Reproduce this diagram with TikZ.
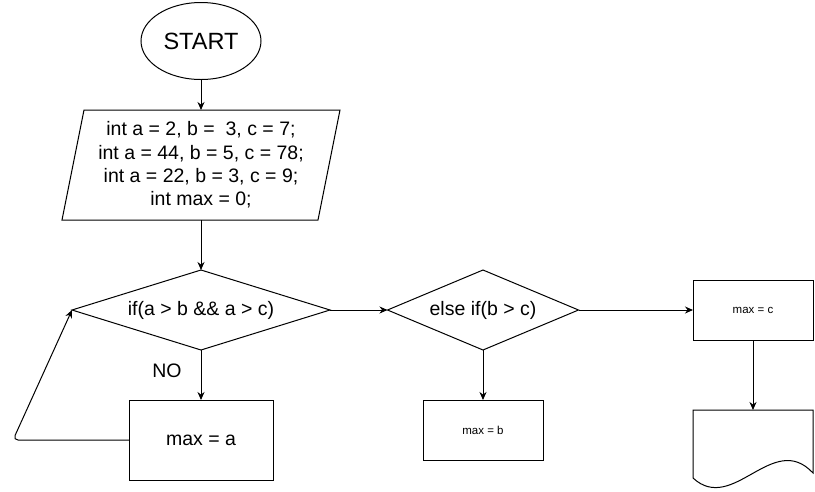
\documentclass[tikz,border=0pt]{standalone}
\usepackage{fontspec}
\setmainfont{Liberation Sans}
\usetikzlibrary{shapes.geometric,arrows.meta,calc}
\begin{document}
\begin{tikzpicture}[x=1pt,y=-1pt,
  every node/.style={inner sep=0pt,outer sep=0pt},
  big/.style={font=\fontsize{19.5}{23.4}\selectfont},
  small/.style={font=\fontsize{11.5}{14}\selectfont},
  startbox/.style={ellipse,draw,line width=1pt,minimum width=120pt,minimum height=77pt,font=\fontsize{23.5}{28}\selectfont},
  decision/.style={diamond,draw,line width=1pt,big},
  procbox/.style={rectangle,draw,line width=1pt},
  arr/.style={line width=1pt,-{Stealth[length=8pt,width=7pt]}},
  line/.style={line width=1pt}
]
\useasboundingbox (0,0) rectangle (815,491);
\fill[white] (0,0) rectangle (815,491);

\node[startbox] (start) at (201,41) {START};

\node[minimum width=256pt,minimum height=110pt,big,align=center] (init) at (201,165)
  {int a = 2, b = \ 3, c = 7;\\int a = 44, b = 5, c = 78;\\int a = 22, b = 3, c = 9;\\int max = 0;};
\draw[line] ([xshift=11pt]init.north west) -- ([xshift=11pt]init.north east)
  -- ([xshift=-11pt]init.south east) -- ([xshift=-11pt]init.south west) -- cycle;

\node[decision,aspect=3.2,minimum width=258pt,minimum height=80pt] (d1) at (201,310) {if(a > b \&\& a > c)};
\node[decision,aspect=2.4,minimum width=191pt,minimum height=80pt] (d2) at (483,310) {else if(b > c)};

\node[procbox,big,minimum width=144pt,minimum height=80pt] (ma) at (201,440) {max = a};
\node[procbox,small,minimum width=120pt,minimum height=60pt] (mb) at (483,430) {max = b};
\node[procbox,small,minimum width=120pt,minimum height=60pt] (mc) at (753,310) {max = c};

\coordinate (doctop) at (753,410);
\draw[line] (693,478) -- (693,410) -- (813,410) -- (813,473)
  .. controls (773,430) and (733,515) .. (693,478);

\node[big] (no) at (167,371) {NO};

\coordinate (loopc) at (13,440);

\draw[arr] (start) -- (init);
\draw[arr] (init.south) -- (d1.north);
\draw[arr] (d1.south) -- (ma.north);
\draw[arr, rounded corners=5pt] (ma.west) -- (loopc) -- (d1.west);
\draw[arr] (d1.east) -- (d2.west);
\draw[arr] (d2.south) -- (mb.north);
\draw[arr] (d2.east) -- (mc.west);
\draw[arr] (mc.south) -- (doctop);
\end{tikzpicture}
\end{document}
